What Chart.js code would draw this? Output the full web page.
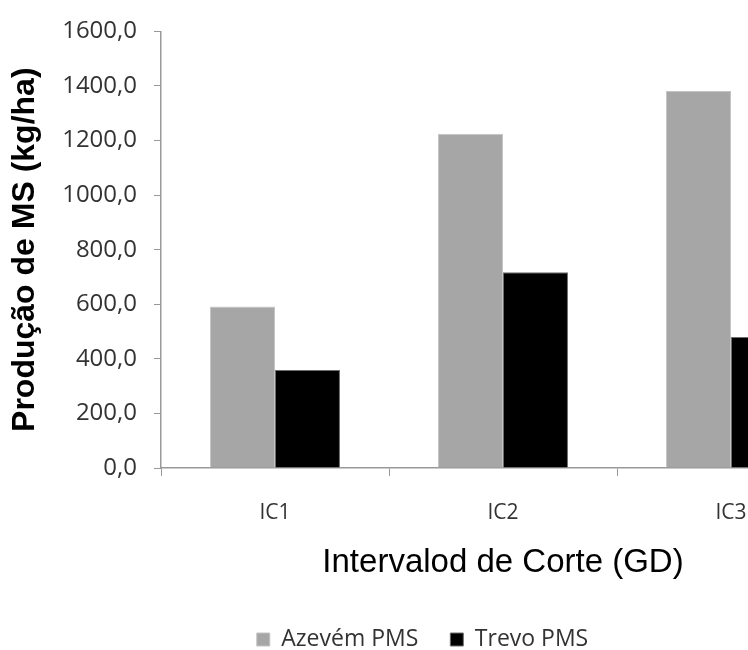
<!DOCTYPE html>
<html>
<head>
<meta charset="utf-8">
<script src="https://cdn.jsdelivr.net/npm/chart.js@4"></script>
<style>
    body { margin: 0; background: #fff; }
    .wrap { width: 748px; height: 650px; overflow: hidden; position: relative; }
    .inner { width: 858px; height: 650px; }
</style>
</head>
<body>
<div class="wrap"><div class="inner"><canvas id="prodChart"></canvas></div></div>
<script>
    const categories = ['IC1', 'IC2', 'IC3'];
    const azevemPMS = [592, 1225, 1382];
    const trevoPMS = [359, 717, 480];
    const yMax = 1600;
    const yStep = 200;

    const prodChart = new Chart(document.getElementById('prodChart'), {
      type: 'bar',
      data: {
        labels: categories,
        datasets: [{
          label: 'Azevém PMS',
          data: azevemPMS,
          backgroundColor: '#a6a6a6',
          borderColor: '#c4c4c4',
          borderWidth: 1
        }, {
          label: 'Trevo PMS',
          data: trevoPMS,
          backgroundColor: '#000000',
          borderColor: '#6e6e6e',
          borderWidth: 1
        }]
      },
      options: {
        responsive: true,
        maintainAspectRatio: false,
        animation: false,
        categoryPercentage: 0.57,
        barPercentage: 1.0,
        layout: {
          padding: { top: 25, right: 13, left: 0, bottom: 0 }
        },
        plugins: {
          tooltip: { enabled: false },
          legend: {
            position: 'bottom',
            maxHeight: 54,
            labels: {
              boxWidth: 13,
              boxHeight: 13,
              padding: 32,
              color: '#333',
              font: { family: 'Open Sans', size: 23 }
            }
          }
        },
        scales: {
          x: {
            afterFit: s => { s.height = 128; },
            grid: { drawOnChartArea: false, tickLength: 8, color: '#999', offset: true },
            border: { color: '#999', width: 1.5 },
            ticks: { color: '#333', padding: 24, font: { family: 'Open Sans', size: 21 } },
            title: {
              display: true,
              text: 'Intervalod de Corte (GD)',
              color: '#000',
              padding: { top: 0, bottom: 13 },
              font: { family: 'Liberation Sans', size: 33 }
            }
          },
          y: {
            min: 0,
            max: yMax,
            afterFit: s => { s.width = 161; },
            grid: { drawOnChartArea: false, tickLength: 7, color: '#999' },
            border: { color: '#999', width: 1.5 },
            ticks: {
              stepSize: yStep,
              padding: 17,
              color: '#333',
              font: { family: 'Open Sans', size: 24 },
              callback: v => v.toFixed(1).replace('.', ',')
            },
            title: {
              display: true,
              text: 'Produção de MS (kg/ha)',
              color: '#000',
              padding: { top: 6, bottom: 0 },
              font: { family: 'Liberation Sans', size: 32, weight: 'bold' }
            }
          }
        }
      }
    });
</script>
</body>
</html>
